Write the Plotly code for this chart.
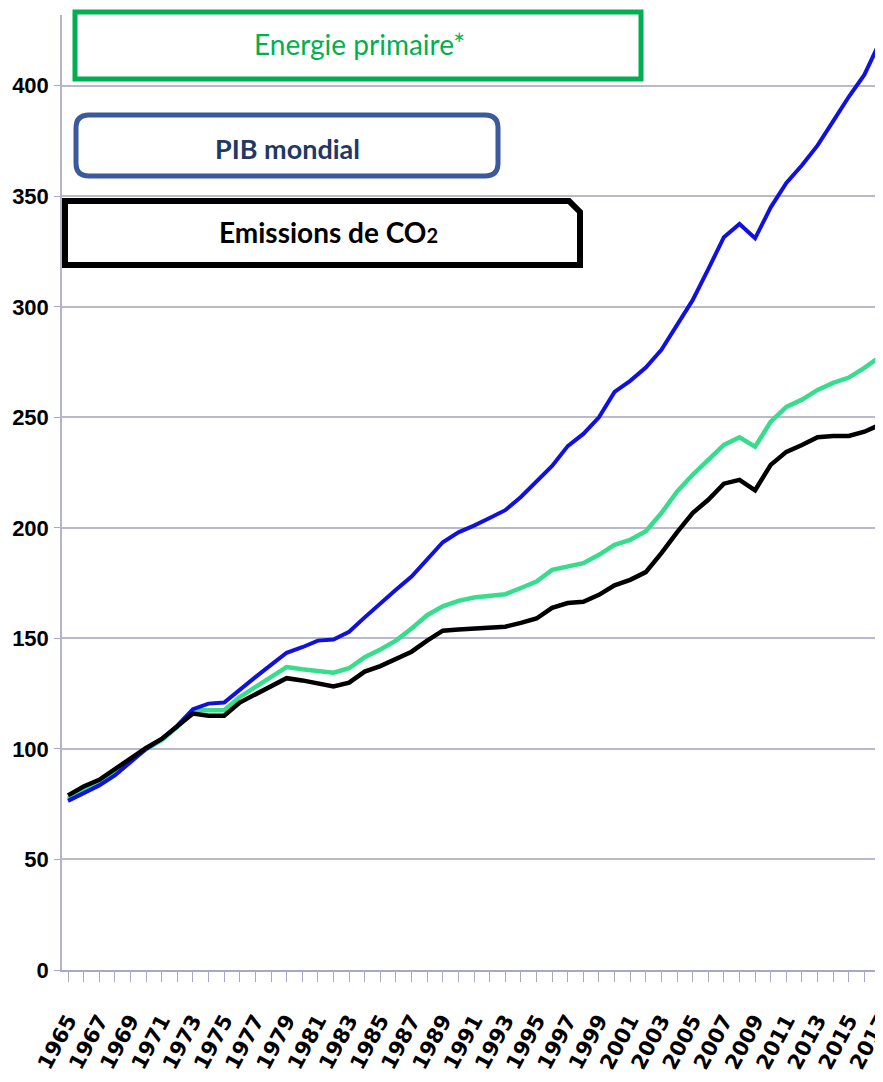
import plotly.graph_objects as go

years = list(range(1965, 2018))

pib_mondial = [76.5, 80, 83.5, 88, 94, 100, 104.5, 110.5, 118, 120.5,
               121, 127, 132.5, 138, 143.5, 146, 149, 149.5, 153, 159.5,
               166, 172, 178, 186, 193.5, 198, 201, 204.5, 208, 214,
               221, 228, 237, 242.5, 250, 261.5, 266.5, 272.5, 280.5, 291.5,
               303, 317, 331.5, 337.5, 331, 345, 356, 364, 373, 384,
               395, 405, 420]

energie_primaire = [77.5, 81, 84.5, 89.5, 95, 100, 104, 110, 117.5, 117.5,
                    117.5, 123.5, 128, 132.5, 137, 136, 135, 134.5, 136.5, 141.5,
                    145, 149, 154.5, 160.5, 164.5, 167, 168.5, 169.3, 170, 172.8,
                    175.7, 181, 182.4, 184, 187.8, 192.3, 194.6, 198.5, 206.7, 216.4,
                    224, 230.8, 237.5, 241, 236.7, 248, 254.7, 258, 262.4, 265.6,
                    268, 272.4, 277.4]

emissions_co2 = [79, 83, 86, 91, 96, 100.5, 104.5, 110, 116, 115,
                 115, 121, 124.5, 128, 132, 131, 129.5, 128.3, 130, 135,
                 137.5, 140.5, 144, 149, 153.5, 154, 154.5, 155.3, 155.3, 157,
                 159, 163.8, 166, 166.6, 169.7, 174, 176.5, 180, 188.6, 198,
                 206.7, 212.7, 220, 221.7, 217, 228.5, 234.4, 237.5, 241, 241.6,
                 241.6, 243.5, 246.6]

tick_text = [str(y) if y % 2 == 1 else "" for y in years]
y_ticks = [0, 50, 100, 150, 200, 250, 300, 350, 400]

label_energie = "Energie primaire*"
label_pib = "PIB mondial"
label_co2 = 'Emissions de CO<span style="font-size:20px">2</span>'

# Page geometry: the browser adds an 8px body margin, so the figure is
# sized to fit the 883x1082 window and positions are given in screen pixels.
OFF = 8
W, H = 883 - OFF, 1082 - OFF
PLOT_L, PLOT_R, PLOT_T, PLOT_B = 62, 883, 15, 970   # screen pixels
ML, MR, MT, MB = PLOT_L - OFF, 883 - PLOT_R, PLOT_T - OFF, 1082 - PLOT_B
PW, PH = PLOT_R - PLOT_L, PLOT_B - PLOT_T


def px(x):
    return (x - PLOT_L) / PW


def py(y):
    return (PLOT_B - y) / PH


fig = go.Figure()
fig.add_trace(go.Scatter(x=years, y=energie_primaire, mode="lines",
                         line=dict(color="#36dd8c", width=4.5), name="Energie primaire"))
fig.add_trace(go.Scatter(x=years, y=pib_mondial, mode="lines",
                         line=dict(color="#1010e0", width=4), name="PIB mondial"))
fig.add_trace(go.Scatter(x=years, y=emissions_co2, mode="lines",
                         line=dict(color="#000000", width=4.5), name="Emissions de CO2"))

grid_col = "#b9b9cd"
fig.update_layout(
    width=W, height=H,
    margin=dict(l=ML, r=MR, t=MT, b=MB, pad=0, autoexpand=False),
    paper_bgcolor="white", plot_bgcolor="white",
    showlegend=False,
    xaxis=dict(range=[1964.616, 2017.19], tickvals=years, ticktext=tick_text,
               tickangle=-62, ticks="outside", ticklen=10, tickwidth=1,
               tickcolor="#a8a8c4", showgrid=False, zeroline=False,
               showline=True, linecolor="#a8a8c4", linewidth=2,
               ticklabelstandoff=18, automargin=False, ticklabeloverflow="allow",
               tickfont=dict(family="DejaVu Sans", size=21, color="black", weight="bold")),
    yaxis=dict(range=[0, 432], tickvals=y_ticks, ticks="outside", ticklen=6,
               tickcolor="#a8a8c4", showgrid=True, gridcolor=grid_col, gridwidth=2,
               zeroline=False, showline=True, linecolor="#b4b4cc", linewidth=1.5,
               ticklabelstandoff=1, automargin=False, ticklabeloverflow="allow",
               tickfont=dict(family="Liberation Sans, Arial", size=22, color="black", weight="bold")),
)

# Green box: Energie primaire*
fig.add_shape(type="rect", xref="paper", yref="paper",
              x0=px(75), x1=px(641), y0=py(79), y1=py(12),
              line=dict(color="#00b050", width=5), fillcolor="white", layer="above")

# Blue rounded box: PIB mondial
x0, x1, y0, y1, r = 76, 498, 115, 176, 13
path_pib = (f"M {px(x0 + r)},{py(y0)} L {px(x1 - r)},{py(y0)} "
            f"Q {px(x1)},{py(y0)} {px(x1)},{py(y0 + r)} "
            f"L {px(x1)},{py(y1 - r)} Q {px(x1)},{py(y1)} {px(x1 - r)},{py(y1)} "
            f"L {px(x0 + r)},{py(y1)} Q {px(x0)},{py(y1)} {px(x0)},{py(y1 - r)} "
            f"L {px(x0)},{py(y0 + r)} Q {px(x0)},{py(y0)} {px(x0 + r)},{py(y0)} Z")
fig.add_shape(type="path", xref="paper", yref="paper", path=path_pib,
              line=dict(color="#3a5a9c", width=5), fillcolor="white", layer="above")

# Black box with clipped top-right corner: Emissions de CO2
bx0, bx1, by0, by1, c = 65, 580, 201, 265, 11
path_co2 = (f"M {px(bx0)},{py(by0)} L {px(bx1 - c)},{py(by0)} "
            f"L {px(bx1)},{py(by0 + c)} L {px(bx1)},{py(by1)} "
            f"L {px(bx0)},{py(by1)} Z")
fig.add_shape(type="path", xref="paper", yref="paper", path=path_co2,
              line=dict(color="black", width=6), fillcolor="white", layer="above")

fig.add_annotation(xref="paper", yref="paper", x=px(359), y=py(44), text=label_energie,
                   showarrow=False, xanchor="center", yanchor="middle",
                   font=dict(family="Lato, Open Sans", size=28, color="#00b050"))
fig.add_annotation(xref="paper", yref="paper", x=px(287), y=py(148), text=label_pib,
                   showarrow=False, xanchor="center", yanchor="middle",
                   font=dict(family="Lato, Open Sans", size=27, color="#1f3864", weight="bold"))
fig.add_annotation(xref="paper", yref="paper", x=px(328), y=py(232), text=label_co2,
                   showarrow=False, xanchor="center", yanchor="middle",
                   font=dict(family="Lato, Open Sans", size=28, color="black", weight="bold"))

fig.write_html("out.html")
